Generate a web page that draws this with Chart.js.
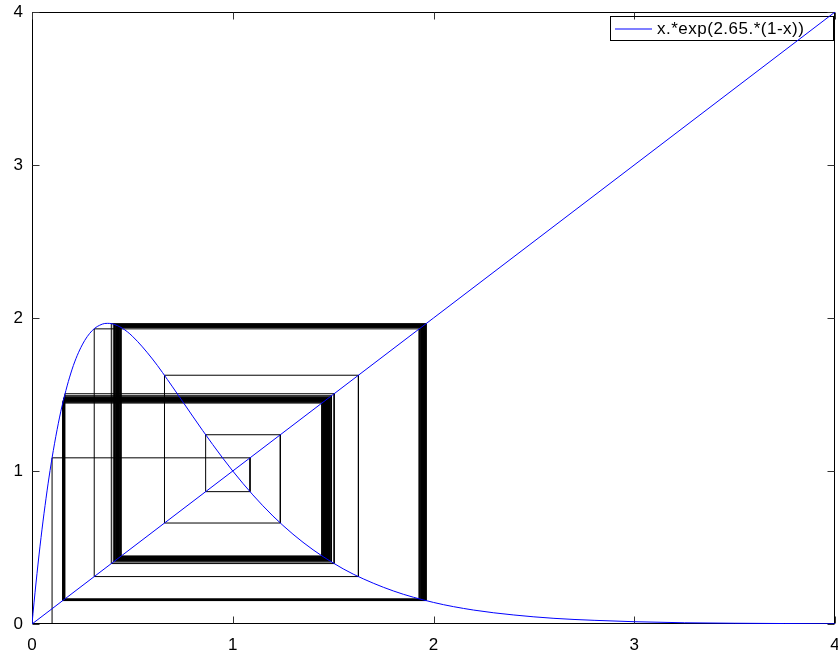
<!DOCTYPE html>
<html>
<head>
<meta charset="utf-8">
<title>Ricker map cobweb</title>
<script src="https://cdn.jsdelivr.net/npm/chart.js@4/dist/chart.umd.min.js"></script>
<style>
    html, body { margin: 0; padding: 0; background: #fff; overflow: hidden; }
    #wrap { position: relative; width: 850px; height: 655px; }
</style>
</head>
<body>
<div id="wrap"><canvas id="cobwebChart"></canvas></div>
<script>
// --- data ---
const curveX = [0, 0.01, 0.02, 0.03, 0.04, 0.05, 0.06, 0.08, 0.1, 0.125, 0.15, 0.2, 0.25, 0.3, 0.35, 0.375, 0.4, 0.45, 0.5,
    0.6, 0.7, 0.8, 0.9, 1.0, 1.1, 1.2, 1.3, 1.4, 1.5, 1.6, 1.8, 2.0, 2.2, 2.4, 2.6, 2.8, 3.0, 3.25, 3.5, 3.75, 4.0];
const curveY = [0, 0.138, 0.268, 0.392, 0.509, 0.620, 0.724, 0.916, 1.086, 1.270, 1.427, 1.666, 1.824, 1.918, 1.960, 1.965, 1.962, 1.933, 1.881,
    1.732, 1.550, 1.359, 1.173, 1.000, 0.844, 0.706, 0.587, 0.485, 0.399, 0.326, 0.216, 0.141, 0.091, 0.059, 0.037, 0.024, 0.015, 0.008, 0.005, 0.003, 0.001];

const diagX = [0, 4];
const diagY = [0, 4];

// iterates x0, x1, x2 ... of the map, starting at 0.1 (settles on the 4-cycle)
const orbit = [
    0.100, 1.086, 0.865, 1.237, 0.660, 1.626, 0.310, 1.929, 0.164, 1.505, 0.395, 1.963, 0.153, 1.444, 0.445, 1.937, 0.162, 1.492, 0.405,
    1.960, 0.154, 1.449, 0.441, 1.940, 0.161, 1.485, 0.411, 1.958, 0.155, 1.453, 0.437, 1.943, 0.160, 1.481, 0.414, 1.956, 0.155, 1.456,
    0.435, 1.944, 0.159, 1.478, 0.417, 1.955, 0.156, 1.458, 0.433, 1.946, 0.159, 1.475, 0.419, 1.954, 0.156, 1.460, 0.431, 1.947, 0.158,
    1.474, 0.420, 1.953, 0.156, 1.461, 0.430, 1.947, 0.158, 1.472, 0.421, 1.953, 0.156, 1.463, 0.429, 1.948, 0.158, 1.471, 0.422, 1.952,
    0.157, 1.463, 0.429, 1.948, 0.158, 1.470, 0.423, 1.952, 0.157, 1.464, 0.428, 1.949, 0.158, 1.470, 0.423, 1.951, 0.157, 1.465, 0.427,
    1.949, 0.158, 1.469, 0.424, 1.951, 0.157, 1.465, 0.427, 1.949, 0.158, 1.469, 0.424, 1.951, 0.157, 1.466, 0.427, 1.949, 0.157, 1.468,
    0.424, 1.951, 0.157, 1.466, 0.427, 1.950, 0.157, 1.468, 0.425, 1.951, 0.157, 1.466, 0.426, 1.950, 0.157, 1.468, 0.425, 1.951, 0.157,
    1.466, 0.426, 1.950, 0.157, 1.468, 0.425, 1.951, 0.157, 1.466, 0.426, 1.950, 0.157, 1.468, 0.425, 1.950, 0.157, 1.467, 0.426, 1.950,
    0.157, 1.468, 0.425, 1.950, 0.157, 1.467, 0.426, 1.950, 0.157, 1.467, 0.425, 1.950, 0.157, 1.467, 0.426, 1.950, 0.157, 1.467, 0.425
];

const tickValues = [0, 1, 2, 3, 4];
const legendLabel = 'x.*exp(2.65.*(1-x))';

const FONT = '"Liberation Sans", Arial, Helvetica, sans-serif';

function toPoints(xs, ys) {
    return xs.map((x, i) => ({ x: x, y: ys[i] }));
}

// staircase: (x0,0) -> (x0,x1) -> (x1,x1) -> (x1,x2) -> ...
function cobwebPoints(values) {
    const pts = [{ x: values[0], y: 0 }];
    for (let i = 0; i < values.length - 1; i++) {
        pts.push({ x: values[i], y: values[i + 1] });
        pts.push({ x: values[i + 1], y: values[i + 1] });
    }
    return pts;
}

// box frame, inward ticks on all four sides and the legend (all under the lines)
const boxPlugin = {
    id: 'boxFrame',
    beforeDatasetsDraw(chart) {
        const { ctx, chartArea: a, scales } = chart;
        const L = Math.round(a.left) + 0.5, R = Math.round(a.right) - 0.5;
        const T = Math.round(a.top) + 0.5, B = Math.round(a.bottom) - 0.5;
        const tickLen = 7;

        ctx.save();
        ctx.lineWidth = 1;
        ctx.strokeStyle = '#000';
        ctx.strokeRect(L, T, R - L, B - T);

        ctx.strokeStyle = '#333';
        ctx.beginPath();
        tickValues.forEach(v => {
            const px = Math.round(scales.x.getPixelForValue(v)) + 0.5;
            ctx.moveTo(px, B); ctx.lineTo(px, B - tickLen);
            ctx.moveTo(px, T); ctx.lineTo(px, T + tickLen);
            const py = Math.round(scales.y.getPixelForValue(v)) + 0.5;
            ctx.moveTo(L, py); ctx.lineTo(L + tickLen, py);
            ctx.moveTo(R, py); ctx.lineTo(R - tickLen, py);
        });
        ctx.stroke();
        ctx.restore();

        // legend: box, line sample, label
        ctx.save();
        ctx.lineWidth = 1;
        ctx.strokeStyle = '#000';
        ctx.strokeRect(610.5, 16.5, 223, 24);
        ctx.strokeStyle = chart.data.datasets[0].borderColor;
        ctx.lineWidth = 1.2;
        ctx.beginPath();
        ctx.moveTo(615, 29);
        ctx.lineTo(652, 29);
        ctx.stroke();
        ctx.fillStyle = '#000';
        ctx.font = '17px ' + FONT;
        ctx.textBaseline = 'middle';
        ctx.textAlign = 'left';
        if ('letterSpacing' in ctx) ctx.letterSpacing = '0.5px';
        ctx.fillText(legendLabel, 657, 29.5);
        ctx.restore();
    }
};

const tickFont = { family: FONT, size: 17 };

const chart = new Chart(document.getElementById('cobwebChart'), {
    type: 'scatter',
    data: {
        datasets: [{
            label: legendLabel,
            data: toPoints(curveX, curveY),
            showLine: true,
            borderColor: '#0000ff',
            borderWidth: 1,
            pointRadius: 0,
            cubicInterpolationMode: 'monotone',
            order: 0
        }, {
            label: 'x',
            data: toPoints(diagX, diagY),
            showLine: true,
            borderColor: '#0000ff',
            borderWidth: 1,
            pointRadius: 0,
            order: 1
        }, {
            label: 'cobweb',
            data: cobwebPoints(orbit),
            showLine: true,
            borderColor: '#000000',
            borderWidth: 1,
            pointRadius: 0,
            tension: 0,
            order: 2
        }]
    },
    options: {
        responsive: true,
        maintainAspectRatio: false,
        animation: false,
        layout: { padding: { top: 12, right: 15, left: 0, bottom: 0 } },
        plugins: {
            legend: { display: false },
            tooltip: { enabled: false }
        },
        scales: {
            x: {
                type: 'linear',
                min: 0,
                max: 4,
                // fixed axis size, no extra room for the end labels
                afterFit: s => { s.height = 31; s.paddingLeft = 0; s.paddingRight = 0; },
                grid: { display: false, drawTicks: false },
                border: { display: false },
                ticks: { stepSize: 1, padding: 11, color: '#000', font: tickFont, maxRotation: 0 }
            },
            y: {
                type: 'linear',
                min: 0,
                max: 4,
                afterFit: s => { s.width = 32; s.paddingTop = 0; s.paddingBottom = 0; },
                grid: { display: false, drawTicks: false },
                border: { display: false },
                ticks: { stepSize: 1, padding: 9, color: '#000', font: tickFont }
            }
        }
    },
    plugins: [boxPlugin]
});
console.log('cobweb chart ready', chart.chartArea);
</script>
</body>
</html>
